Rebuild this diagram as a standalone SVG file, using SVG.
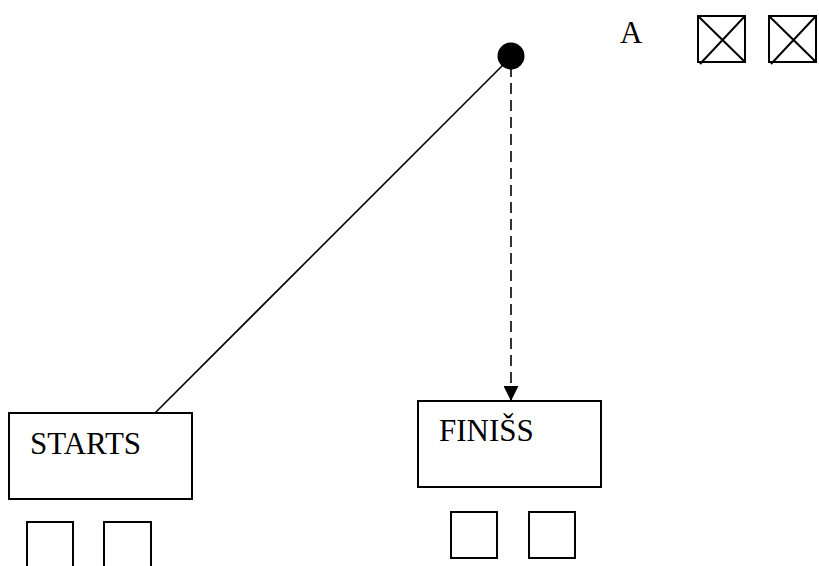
<svg xmlns="http://www.w3.org/2000/svg" width="819" height="566" viewBox="0 0 819 566">
  <defs>
    <marker id="arrow" viewBox="0 0 10 10" refX="10" refY="5" markerWidth="15" markerHeight="15" markerUnits="userSpaceOnUse" orient="auto">
      <path d="M0,0 L10,5 L0,10 Z" fill="#000"/>
    </marker>
    <style>
      .box { fill: #fff; stroke: #000; stroke-width: 2; }
      .line { fill: none; stroke: #000; stroke-width: 1.6; }
      .cross { fill: none; stroke: #000; stroke-width: 2; }
      .label { font-family: "Liberation Serif", "Times New Roman", serif; font-size: 31px; fill: #000; }
    </style>
  </defs>
  <rect width="819" height="566" fill="#fff"/>

  <g id="connectors">
    <line class="line" x1="506" y1="62" x2="155" y2="413"/>
    <line class="line" x1="511" y1="66" x2="511" y2="401" stroke-dasharray="11 6" marker-end="url(#arrow)"/>
  </g>

  <g id="start-point">
    <circle cx="511" cy="56" r="13.5" fill="#000"/>
  </g>

  <g id="legend">
    <text class="label" x="620" y="43">A</text>
    <rect class="box" x="698" y="16" width="47" height="46"/>
    <path class="cross" d="M698,16 L745,62 M745,16 L700,64"/>
    <rect class="box" x="769" y="16" width="47" height="46"/>
    <path class="cross" d="M769,16 L816,62 M816,16 L771,64"/>
  </g>

  <g id="starts">
    <rect class="box" x="9" y="413" width="183" height="86"/>
    <text class="label" x="30" y="454">STARTS</text>
    <rect class="box" x="27" y="522" width="46" height="50"/>
    <rect class="box" x="104" y="522" width="47" height="50"/>
  </g>

  <g id="finiss">
    <rect class="box" x="418" y="401" width="183" height="86"/>
    <text class="label" x="439" y="441">FINIŠS</text>
    <rect class="box" x="451" y="512" width="46" height="46"/>
    <rect class="box" x="529" y="512" width="46" height="46"/>
  </g>
</svg>
